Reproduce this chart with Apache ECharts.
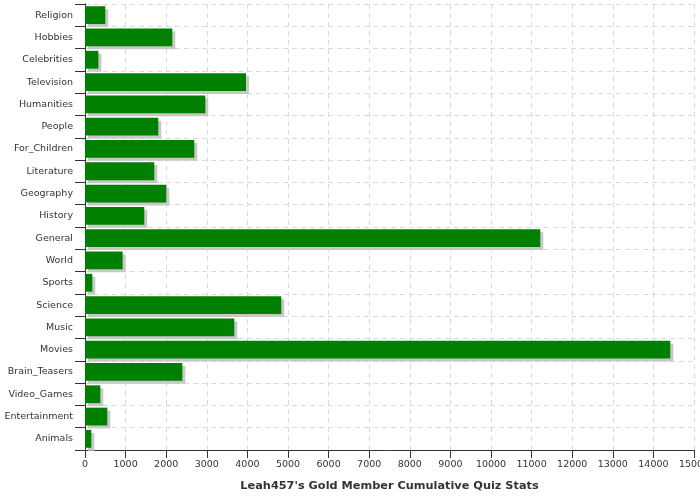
<!DOCTYPE html>
<html><head><meta charset="utf-8">
<script src="https://cdn.jsdelivr.net/npm/echarts@6/dist/echarts.min.js"></script>
<style>html,body{margin:0;padding:0;background:#fff}#c{width:700px;height:500px}</style>
</head><body><div id="c"></div>
<script>
const categories = ["Religion","Hobbies","Celebrities","Television","Humanities","People","For_Children","Literature","Geography","History","General","World","Sports","Science","Music","Movies","Brain_Teasers","Video_Games","Entertainment","Animals"];
const values = [500,2150,330,3965,2963,1805,2692,1707,2002,1460,11214,927,180,4835,3677,14416,2397,377,549,155];
const xTicks = {min:0, max:15000, interval:1000};
const titleText = "Leah457's Gold Member Cumulative Quiz Stats";

const chart = echarts.init(document.getElementById('c'), null, {renderer:'canvas'});
const font = 'DejaVu Sans';
chart.setOption({
  animation:false,
  backgroundColor:'#fff',
  grid:{left:85, right:6, top:4, bottom:50, containLabel:false, outerBoundsMode:'none'},
  xAxis:{
    type:'value', min:xTicks.min, max:xTicks.max, interval:xTicks.interval,
    name:titleText, nameLocation:'middle', nameGap:31,
    nameTextStyle:{fontFamily:font, fontSize:11.3, fontWeight:'bold', color:'#333'},
    axisLine:{show:true, lineStyle:{color:'#333', width:1}},
    axisTick:{show:true, length:8, lineStyle:{color:'#333'}},
    axisLabel:{fontFamily:font, fontSize:9.5, color:'#333', margin:10, showMaxLabel:true, hideOverlap:false,
      formatter:function(v){return String(v);}},
    splitLine:{show:true, lineStyle:{color:'#d5dbde', type:[5,4], width:1}}
  },
  yAxis:{
    type:'category', data:categories, inverse:true,
    axisLine:{show:true, lineStyle:{color:'#333', width:1}},
    axisTick:{show:true, length:10, lineStyle:{color:'#333'}},
    axisLabel:{fontFamily:font, fontSize:9.5, color:'#333', margin:12},
    splitLine:{show:true, lineStyle:{color:'#d5dbde', type:[5,4], width:1}}
  },
  series:[{
    type:'bar', data:values, barCategoryGap:'20%',
    itemStyle:{color:'#008000', shadowColor:'#c8c8c8', shadowOffsetX:3, shadowOffsetY:3, shadowBlur:0}
  }]
});
</script></body></html>
